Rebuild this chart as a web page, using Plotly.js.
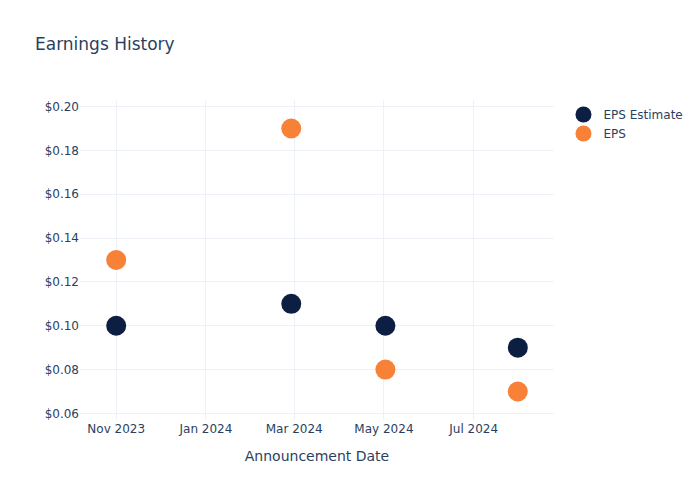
<!DOCTYPE html>
<html>
<head>
<meta charset="utf-8">
<script src="https://cdn.plot.ly/plotly-3.0.1.min.js"></script>
<style>html,body{margin:0;padding:0;}#chart{width:700px;height:500px;}</style>
</head>
<body>
<div id="chart"></div>
<script>
var dates = ["2023-11-01", "2024-02-28", "2024-05-02", "2024-07-31"];
var epsEstimate = [0.10, 0.11, 0.10, 0.09];
var epsActual = [0.13, 0.19, 0.08, 0.07];

var traces = [
  {
    x: dates, y: epsEstimate, name: "EPS Estimate", type: "scatter", mode: "markers",
    marker: {color: "#0c1f42", size: 20}
  },
  {
    x: dates, y: epsActual, name: "EPS", type: "scatter", mode: "markers",
    marker: {color: "#f78136", size: 20}
  }
];

var layout = {
  template: "plotly_white",
  width: 700, height: 500,
  paper_bgcolor: "#ffffff", plot_bgcolor: "#ffffff",
  font: {family: "DejaVu Sans, sans-serif", color: "#2a3f5f", size: 12},
  title: {text: "Earnings History", x: 0.05, font: {size: 17}},
  xaxis: {
    title: {text: "Announcement Date", font: {size: 14}, standoff: 16},
    type: "date", gridcolor: "#eef1f7", zeroline: false,
    tickformat: "%b %Y", dtick: "M2", tick0: "2023-11-01"
  },
  yaxis: {
    tickprefix: "$", tickformat: ".2f", gridcolor: "#eef1f7", zeroline: false,
    dtick: 0.02
  },
  legend: {x: 1.02, y: 1, font: {size: 12}},
  showlegend: true
};

Plotly.newPlot("chart", traces, layout, {displayModeBar: false});
</script>
</body>
</html>
